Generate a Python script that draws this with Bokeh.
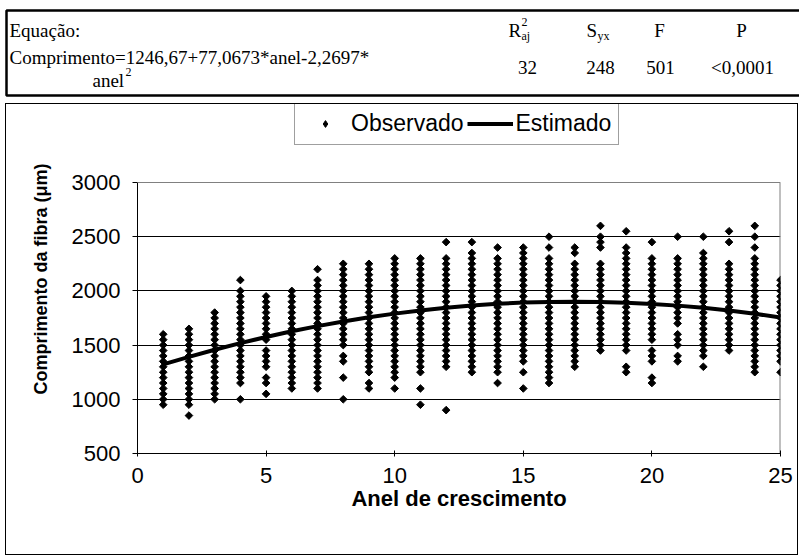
from bokeh.plotting import figure
from bokeh.models import Range1d, Legend, LegendItem, FixedTicker, Span
from bokeh.layouts import column
from bokeh.embed import file_html
from bokeh.resources import INLINE
from bokeh.core.properties import value

# Fibre length (µm) observed in each growth ring
ring_01 = [950, 1000, 1050, 1100, 1150, 1200, 1250, 1300, 1350, 1400, 1450, 1500, 1550, 1600]
ring_02 = [850, 950, 1000, 1050, 1100, 1150, 1200, 1250, 1300, 1350, 1400, 1450, 1500, 1550, 1600, 1650]
ring_03 = [1000, 1050, 1100, 1150, 1200, 1250, 1300, 1350, 1400, 1450, 1500, 1550, 1600, 1650, 1700, 1750, 1800]
ring_04 = [1000, 1150, 1200, 1250, 1300, 1350, 1400, 1450, 1500, 1550, 1600, 1650, 1700, 1750, 1800, 1850, 1900,
           1950, 2000, 2100]
ring_05 = [1050, 1150, 1200, 1300, 1350, 1400, 1450, 1550, 1600, 1650, 1700, 1750, 1800, 1850, 1900, 1950]
ring_06 = [1100, 1150, 1200, 1250, 1300, 1350, 1400, 1450, 1500, 1550, 1600, 1650, 1700, 1750, 1800, 1850, 1900,
           1950, 2000]
ring_07 = [1100, 1150, 1200, 1250, 1300, 1350, 1400, 1450, 1500, 1550, 1600, 1650, 1700, 1750, 1800, 1850, 1900,
           1950, 2000, 2050, 2100, 2200]
ring_08 = [1000, 1200, 1350, 1400, 1500, 1550, 1600, 1650, 1700, 1750, 1800, 1850, 1900, 1950, 2000, 2050, 2100,
           2150, 2200, 2250]
ring_09 = [1100, 1150, 1250, 1300, 1350, 1400, 1450, 1500, 1550, 1600, 1650, 1700, 1750, 1800, 1850, 1900, 1950,
           2000, 2050, 2100, 2150, 2200, 2250]
ring_10 = [1100, 1200, 1250, 1300, 1350, 1400, 1450, 1500, 1550, 1600, 1650, 1700, 1750, 1800, 1850, 1900, 1950,
           2000, 2050, 2100, 2150, 2200, 2250, 2300]
ring_11 = [950, 1100, 1250, 1300, 1350, 1400, 1450, 1500, 1550, 1600, 1650, 1700, 1750, 1800, 1850, 1900, 1950,
           2000, 2050, 2100, 2150, 2200, 2250, 2300]
ring_12 = [900, 1300, 1350, 1400, 1450, 1500, 1550, 1600, 1650, 1700, 1750, 1800, 1850, 1900, 1950, 2000, 2050,
           2100, 2150, 2200, 2250, 2300, 2450]
ring_13 = [1250, 1300, 1350, 1400, 1450, 1500, 1550, 1600, 1650, 1700, 1750, 1800, 1850, 1900, 1950, 2000, 2050,
           2100, 2150, 2200, 2250, 2300, 2350, 2450]
ring_14 = [1150, 1250, 1300, 1350, 1400, 1450, 1500, 1550, 1600, 1650, 1700, 1750, 1800, 1850, 1900, 1950, 2000,
           2050, 2100, 2150, 2200, 2250, 2300, 2400]
ring_15 = [1100, 1250, 1350, 1400, 1450, 1500, 1550, 1600, 1650, 1700, 1750, 1800, 1850, 1900, 1950, 2000, 2050,
           2100, 2150, 2200, 2250, 2300, 2350, 2400]
ring_16 = [1150, 1200, 1250, 1300, 1350, 1400, 1450, 1500, 1550, 1600, 1650, 1700, 1750, 1800, 1850, 1900, 1950,
           2000, 2050, 2100, 2150, 2200, 2250, 2300, 2400, 2500]
ring_17 = [1300, 1350, 1400, 1450, 1500, 1550, 1600, 1650, 1700, 1750, 1800, 1850, 1900, 1950, 2000, 2050, 2100,
           2150, 2200, 2250, 2350, 2400]
ring_18 = [1450, 1500, 1550, 1600, 1650, 1700, 1750, 1800, 1850, 1900, 1950, 2000, 2050, 2100, 2150, 2200, 2250,
           2400, 2450, 2500, 2600]
ring_19 = [1250, 1300, 1450, 1500, 1550, 1600, 1650, 1700, 1750, 1800, 1850, 1900, 1950, 2000, 2050, 2100, 2150,
           2200, 2250, 2300, 2350, 2400, 2550]
ring_20 = [1150, 1200, 1350, 1400, 1450, 1550, 1600, 1650, 1700, 1750, 1800, 1850, 1900, 1950, 2000, 2050, 2100,
           2150, 2200, 2250, 2300, 2450]
ring_21 = [1350, 1400, 1500, 1550, 1600, 1700, 1750, 1800, 1850, 1900, 1950, 2000, 2050, 2100, 2150, 2200, 2250,
           2300, 2500]
ring_22 = [1300, 1400, 1450, 1500, 1550, 1600, 1650, 1700, 1750, 1800, 1850, 1900, 1950, 2000, 2050, 2100, 2150,
           2200, 2250, 2300, 2350, 2500]
ring_23 = [1450, 1500, 1550, 1600, 1650, 1700, 1750, 1800, 1850, 1900, 1950, 2000, 2050, 2100, 2150, 2200, 2250,
           2450, 2550]
ring_24 = [1250, 1300, 1350, 1400, 1450, 1500, 1550, 1600, 1650, 1700, 1750, 1800, 1850, 1900, 1950, 2000, 2050,
           2100, 2150, 2200, 2250, 2300, 2400, 2500, 2600]
ring_25 = [1250, 1350, 1400, 1450, 1500, 1550, 1600, 1650, 1700, 1750, 1800, 1850, 1900, 1950, 2000, 2050, 2100]

rings = list(range(1, 26))
observed = [ring_01, ring_02, ring_03, ring_04, ring_05, ring_06, ring_07, ring_08, ring_09, ring_10,
            ring_11, ring_12, ring_13, ring_14, ring_15, ring_16, ring_17, ring_18, ring_19, ring_20,
            ring_21, ring_22, ring_23, ring_24, ring_25]

# Quadratic model: Comprimento = b0 + b1*anel + b2*anel^2
coef_b0 = 1246.67
coef_b1 = 77.0673
coef_b2 = -2.2697

# Fit statistics
stat_values = ["32", "248", "501", "<0,0001"]

x_ticks = [0, 5, 10, 15, 20, 25]
y_ticks = [500, 1000, 1500, 2000, 2500, 3000]
x_min, x_max = 0, 25
y_min, y_max = 500, 3000

obs_x = [r for r, vals in zip(rings, observed) for _ in vals]
obs_y = [v for vals in observed for v in vals]
est_y = [coef_b0 + coef_b1 * r + coef_b2 * r * r for r in rings]

SANS = "Liberation Sans"
SERIF = "Liberation Serif"

# ---- equation / statistics table above the chart ----
hdr = figure(width=799, height=100, x_range=Range1d(0, 799), y_range=Range1d(100, 0),
             output_backend="svg", toolbar_location=None, min_border=0,
             x_axis_location=None, y_axis_location=None)
hdr.frame_align = False
hdr.grid.visible = False
hdr.outline_line_color = None
hdr.quad(left=[6], right=[803], top=[10], bottom=[95], fill_color=None,
         line_color="black", line_width=2.5)


def htext(x, y, txt, size="19px", align="left"):
    hdr.text(x=[x], y=[y], text=[txt], text_font=value(SERIF), text_font_size=size,
             text_align=align, text_baseline="alphabetic", text_color="black")


htext(9, 30, "Equação:")
htext(9, 57, "Comprimento=1246,67+77,0673*anel-2,2697*")
htext(92, 80, "anel")
htext(125, 71, "2", size="12px")
# column headers with sub/superscripts
htext(508, 30, "R")
htext(521, 21, "2", size="12px")
htext(521, 35, "aj", size="12px")
htext(586, 30, "S")
htext(597, 35, "yx", size="12px")
htext(659, 30, "F", align="center")
htext(741, 30, "P", align="center")
for xc, txt in zip([527, 600, 660, 742], stat_values):
    htext(xc, 67, txt, align="center")

# ---- scatter chart ----
# The frame reaches up to the top of the chart box so the legend can sit above the plot area;
# the value axis itself stops at 3000.
FIG_H, BORDER_B = 452, 103
plot_h_px = 271                      # pixel height of the 500..3000 band
frame_h = FIG_H - BORDER_B
y_top = y_min + (y_max - y_min) * frame_h / plot_h_px

p = figure(width=793, height=FIG_H, x_range=Range1d(x_min, x_max), y_range=Range1d(y_min, y_top),
           output_backend="svg", toolbar_location=None,
           min_border_left=131, min_border_right=19, min_border_top=0, min_border_bottom=BORDER_B,
           margin=(3, 0, 0, 5), styles={"border": "1px solid black"})
p.frame_align = False
p.background_fill_color = "white"
p.outline_line_color = None

p.xgrid.visible = False
p.ygrid.grid_line_color = "black"
p.ygrid.grid_line_width = 1
p.ygrid.ticker = FixedTicker(ticks=[t for t in y_ticks if y_min < t < y_max])

# plot-area border (top and right) in grey
p.add_layout(Span(location=y_max, dimension="width", line_color="#808080", line_width=1))
p.segment(x0=[x_max], y0=[y_min], x1=[x_max], y1=[y_max], line_color="#808080", line_width=2)

p.xaxis.ticker = FixedTicker(ticks=x_ticks)
p.yaxis.ticker = FixedTicker(ticks=y_ticks)
p.yaxis.bounds = (y_min, y_max)
p.xaxis.minor_tick_line_color = None
p.yaxis.minor_tick_line_color = None
p.xaxis.major_tick_in = 3
p.xaxis.major_tick_out = 3
p.yaxis.major_tick_in = 0
p.yaxis.major_tick_out = 5
p.axis.axis_line_color = "black"
p.axis.major_tick_line_color = "black"
p.axis.major_label_text_font = SANS
p.axis.major_label_text_font_size = "22px"
p.axis.major_label_text_color = "black"
p.xaxis.major_label_standoff = 11
p.yaxis.major_label_standoff = 12

p.xaxis.axis_label = "Anel de crescimento"
p.yaxis.axis_label = "Comprimento da fibra (μm)"
p.axis.axis_label_text_font = SANS
p.axis.axis_label_text_font_style = "bold"
p.axis.axis_label_text_color = "black"
p.xaxis.axis_label_text_font_size = "22px"
p.yaxis.axis_label_text_font_size = "18px"
p.xaxis.axis_label_standoff = 0
p.yaxis.axis_label_standoff = 18

r_obs = p.scatter(obs_x, obs_y, marker="square", angle=0.785398, size=5.4,
                  fill_color="black", line_color="black")
# diamond key for the legend, drawn on the first observation (hidden under its dot)
r_key = p.scatter(x=obs_x[:1], y=obs_y[:1], marker="diamond", size=4.5,
                  fill_color="black", line_color="black")
r_est = p.line(rings, est_y, line_width=4, line_color="black")

legend = Legend(items=[LegendItem(label="Observado", renderers=[r_key]),
                       LegendItem(label="Estimado", renderers=[r_est])],
                location=(157, 308), orientation="horizontal")
legend.label_text_font = SANS
legend.label_text_font_size = "23px"
legend.label_text_color = "black"
legend.border_line_color = "#404040"
legend.border_line_width = 1
legend.background_fill_color = "white"
legend.background_fill_alpha = 1
legend.glyph_width = 46
legend.glyph_height = 17
legend.label_standoff = 3
legend.spacing = 3
legend.padding = 7
legend.margin = 0
p.add_layout(legend, "center")

page = column(hdr, p, spacing=0)
open("out.html", "w").write(file_html(page, INLINE))
